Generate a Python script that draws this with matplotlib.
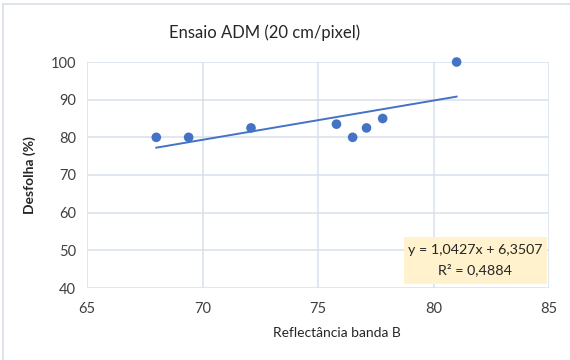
import matplotlib
matplotlib.use("Agg")
import matplotlib.pyplot as plt
from matplotlib.patches import Rectangle
import numpy as np

# Data
reflectancia = [68.0, 69.4, 72.1, 75.8, 76.5, 77.1, 77.8, 81.0]
desfolha = [80, 80, 82.5, 83.5, 80, 82.5, 85, 100]
slope = 1.0427
intercept = 6.3507
r2 = 0.4884
x_ticks = [65, 70, 75, 80, 85]
y_ticks = [40, 50, 60, 70, 80, 90, 100]

plt.rcParams['font.family'] = ['Lato', 'DejaVu Sans']

W, H = 570, 360
fig = plt.figure(figsize=(W / 100, H / 100), dpi=100)
fig.patch.set_facecolor('white')

# outer chart frame
fig.patches.append(Rectangle((3 / W, -0.1), 1.2, 1 - 4 / H + 0.1, transform=fig.transFigure,
                             fill=False, edgecolor='#D9DEE6', linewidth=1.2))

ax = fig.add_axes([87 / W, 1 - 288 / H, (549 - 87) / W, (288 - 62) / H])
ax.set_xlim(65, 85)
ax.set_ylim(40, 100)
ax.set_xticks(x_ticks)
ax.set_yticks(y_ticks)
ax.grid(True, color='#D9E0EC', linewidth=1.1)
ax.set_axisbelow(True)
for s in ax.spines.values():
    s.set_visible(False)
ax.tick_params(length=0, labelsize=10.5, colors='#404040', pad=8)
ax.tick_params(axis='x', pad=10)

ax.scatter(reflectancia, desfolha, s=48, color='#4472C4', zorder=3, clip_on=False, edgecolors='none')

xl = np.array([min(reflectancia), max(reflectancia)])
ax.plot(xl, slope * xl + intercept, color='#4472C4', linewidth=1.4, zorder=2)

eq = f"y = {slope:.4f}x + {intercept:.4f}".replace('.', ',')
r2txt = f"R² = {r2:.4f}".replace('.', ',')
fig.patches.append(Rectangle((404 / W, 1 - 284 / H), (547 - 404) / W, (284 - 237) / H,
                             transform=fig.transFigure, facecolor='#FFF2CC', edgecolor='none', zorder=5))
fig.text(475 / W, 1 - 250 / H, eq, ha='center', va='center', fontsize=10.3, color='#262626', zorder=6)
fig.text(475 / W, 1 - 270 / H, r2txt, ha='center', va='center', fontsize=10.3, color='#262626', zorder=6)

fig.text(265 / W, 1 - 33 / H, "Ensaio ADM (20 cm/pixel)", ha='center', va='center', fontsize=12, color='#262626')
fig.text(337 / W, 1 - 333 / H, "Reflectância banda B", ha='center', va='center', fontsize=10, color='#262626')
fig.text(30 / W, 1 - 175 / H, "Desfolha (%)", ha='center', va='center', rotation=90, fontsize=10,
         fontweight='bold', color='#262626')

fig.savefig("out.png", dpi=100)
